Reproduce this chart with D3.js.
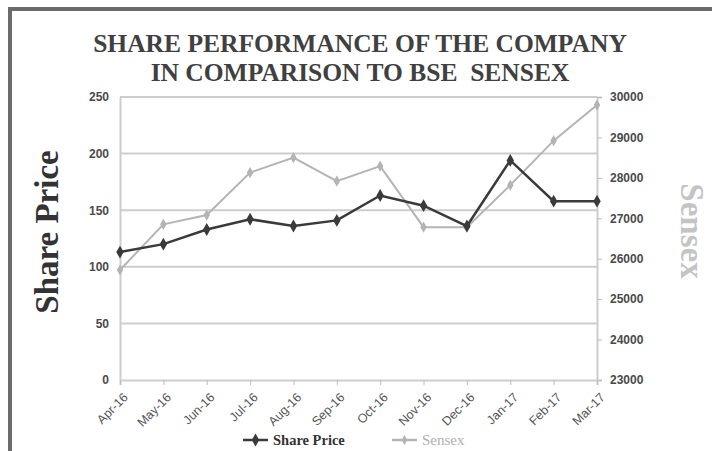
<!DOCTYPE html>
<html>
<head>
<meta charset="utf-8">
<script src="https://cdn.jsdelivr.net/npm/d3@7/dist/d3.min.js"></script>
<style>
  body { margin: 0; background: #fff; }
  svg { display: block; }
</style>
</head>
<body>
<div id="chart"></div>
<script>
const months = ["Apr-16", "May-16", "Jun-16", "Jul-16", "Aug-16", "Sep-16",
                "Oct-16", "Nov-16", "Dec-16", "Jan-17", "Feb-17", "Mar-17"];
const sharePrice = [113, 120, 133, 142, 136, 141, 163, 154, 136, 194, 158, 158];
const sensex = [25720, 26850, 27080, 28130, 28500, 27920, 28290, 26780, 26780, 27820, 28920, 29800];
const leftTicks = [0, 50, 100, 150, 200, 250];
const rightTicks = [23000, 24000, 25000, 26000, 27000, 28000, 29000, 30000];

const width = 712, height = 451;
const margin = { top: 97, right: 115, bottom: 71, left: 120 };
const innerW = width - margin.left - margin.right;
const innerH = height - margin.top - margin.bottom;

const shareColor = "#3a3a3a";
const sensexColor = "#b4b4b4";
const gridColor = "#cdcdcd";

const svg = d3.select("#chart")
  .append("svg")
  .attr("width", width)
  .attr("height", height);

// frame (top and left edges only)
svg.append("line")
  .attr("x1", 8).attr("x2", width).attr("y1", 9).attr("y2", 9)
  .attr("stroke", "#6b6b6b").attr("stroke-width", 4);
svg.append("line")
  .attr("x1", 10).attr("x2", 10).attr("y1", 7).attr("y2", height)
  .attr("stroke", "#6b6b6b").attr("stroke-width", 4);

// title
const title = svg.append("text")
  .attr("text-anchor", "middle")
  .attr("font-family", "Liberation Serif, serif")
  .attr("font-weight", "bold")
  .attr("font-size", "25.5px")
  .attr("fill", "#404040")
  .style("white-space", "pre");
title.append("tspan").attr("x", 360).attr("y", 52).text("SHARE PERFORMANCE OF THE COMPANY");
title.append("tspan").attr("x", 360).attr("y", 81).text("IN COMPARISON TO BSE  SENSEX");

const g = svg.append("g")
  .attr("transform", "translate(" + margin.left + "," + margin.top + ")");

const x = d3.scalePoint()
  .domain(months)
  .range([0, innerW]);

const yLeft = d3.scaleLinear()
  .domain([0, 250])
  .range([innerH, 0]);

const yRight = d3.scaleLinear()
  .domain([23000, 30000])
  .range([innerH, 0]);

// gridlines
g.append("g")
  .selectAll("line")
  .data(leftTicks.slice(1))
  .enter()
  .append("line")
  .attr("x1", 0).attr("x2", innerW)
  .attr("y1", d => yLeft(d)).attr("y2", d => yLeft(d))
  .attr("stroke", gridColor)
  .attr("stroke-width", 2);

// left axis
const leftAxis = g.append("g")
  .call(d3.axisLeft(yLeft).tickValues(leftTicks).tickSize(0).tickPadding(11));
leftAxis.select(".domain").attr("stroke", gridColor).attr("stroke-width", 2);
leftAxis.selectAll("text")
  .attr("font-family", "Liberation Sans, Arial, sans-serif")
  .attr("font-size", "12px")
  .attr("font-weight", "bold")
  .attr("fill", "#4a4a4a");

// right axis
const rightAxis = g.append("g")
  .attr("transform", "translate(" + innerW + ",0)")
  .call(d3.axisRight(yRight).tickValues(rightTicks).tickFormat(d3.format("d")).tickSize(5).tickPadding(8));
rightAxis.select(".domain").attr("stroke", gridColor).attr("stroke-width", 2);
rightAxis.selectAll(".tick line").attr("stroke", "#bdbdbd");
rightAxis.selectAll("text")
  .attr("font-family", "Liberation Sans, Arial, sans-serif")
  .attr("font-size", "12px")
  .attr("font-weight", "bold")
  .attr("fill", "#4a4a4a");

// bottom axis
const bottomAxis = g.append("g")
  .attr("transform", "translate(0," + innerH + ")")
  .call(d3.axisBottom(x).tickSize(5).tickPadding(4));
bottomAxis.select(".domain").attr("stroke", gridColor).attr("stroke-width", 2);
bottomAxis.selectAll(".tick line").attr("stroke", "#bdbdbd");
bottomAxis.selectAll("text")
  .attr("font-family", "Liberation Sans, Arial, sans-serif")
  .attr("font-size", "12.5px")
  .attr("fill", "#555")
  .attr("text-anchor", "end")
  .attr("x", 0)
  .attr("y", 0)
  .attr("dy", "0.35em")
  .attr("transform", "translate(5,15) rotate(-45)");

// sensex line
g.append("path")
  .datum(sensex)
  .attr("fill", "none")
  .attr("stroke", sensexColor)
  .attr("stroke-width", 2)
  .attr("d", d3.line()
    .x((d, i) => x(months[i]))
    .y(d => yRight(d)));

g.append("g")
  .selectAll("path")
  .data(sensex)
  .enter()
  .append("path")
  .attr("transform", (d, i) => "translate(" + x(months[i]) + "," + yRight(d) + ")")
  .attr("d", d3.symbol().type(d3.symbolDiamond).size(36))
  .attr("fill", sensexColor);

// share price line
g.append("path")
  .datum(sharePrice)
  .attr("fill", "none")
  .attr("stroke", shareColor)
  .attr("stroke-width", 2.5)
  .attr("d", d3.line()
    .x((d, i) => x(months[i]))
    .y(d => yLeft(d)));

g.append("g")
  .selectAll("path")
  .data(sharePrice)
  .enter()
  .append("path")
  .attr("transform", (d, i) => "translate(" + x(months[i]) + "," + yLeft(d) + ")")
  .attr("d", d3.symbol().type(d3.symbolDiamond).size(48))
  .attr("fill", shareColor);

// axis titles
svg.append("text")
  .attr("transform", "translate(58,232) rotate(-90)")
  .attr("text-anchor", "middle")
  .attr("font-family", "Liberation Serif, serif")
  .attr("font-weight", "bold")
  .attr("font-size", "33px")
  .attr("fill", "#333")
  .text("Share Price");

svg.append("text")
  .attr("transform", "translate(681,231) rotate(90)")
  .attr("text-anchor", "middle")
  .attr("font-family", "Liberation Serif, serif")
  .attr("font-weight", "bold")
  .attr("font-size", "33px")
  .attr("fill", "#c4c4c4")
  .text("Sensex");

// legend
const legend = [
  { name: "Share Price", color: shareColor, x: 243, weight: "bold", textColor: "#333", size: 48, font: 14.5 },
  { name: "Sensex", color: sensexColor, x: 392, weight: "normal", textColor: "#b0b0b0", size: 30, font: 15 }
];
const lg = svg.append("g")
  .selectAll("g")
  .data(legend)
  .enter()
  .append("g")
  .attr("transform", d => "translate(" + d.x + ",440)");
lg.append("line")
  .attr("x1", 0).attr("x2", 25)
  .attr("stroke", d => d.color)
  .attr("stroke-width", 2.5);
lg.append("path")
  .attr("transform", "translate(12.5,0)")
  .attr("d", d => d3.symbol().type(d3.symbolDiamond).size(d.size)())
  .attr("fill", d => d.color);
lg.append("text")
  .attr("x", 30)
  .attr("y", 5)
  .attr("font-family", "Liberation Serif, serif")
  .attr("font-size", d => d.font + "px")
  .attr("font-weight", d => d.weight)
  .attr("fill", d => d.textColor)
  .text(d => d.name);
</script>
</body>
</html>
